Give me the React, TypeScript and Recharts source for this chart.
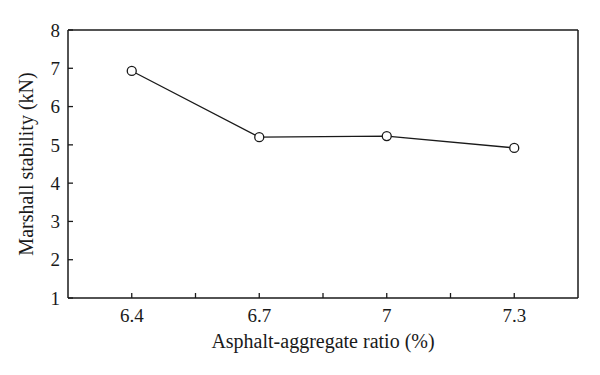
import React from "react";
import { LineChart, Line, XAxis, YAxis, ReferenceLine } from "recharts";

// asphalt-aggregate ratio categories and measured Marshall stability
const ratios = ["6.4", "6.7", "7", "7.3"];
const stability = [6.93, 5.2, 5.23, 4.92];
const yTicks = [1, 2, 3, 4, 5, 6, 7, 8];
// category centres plus the boundaries between them (minor ticks)
const xTicks = [1, 1.5, 2, 2.5, 3, 3.5, 4];

const data = ratios.map((r, i) => ({ pos: i + 1, label: r, value: stability[i] }));

const FONT = "'Liberation Serif', 'Times New Roman', serif";
const INK = "#1a1a1a";
const tickStyle = { fontSize: 19, fill: INK, fontFamily: FONT };

export default function App() {
  return (
    <div style={{ position: "absolute", left: 0, top: 0, background: "#fff" }}>
      <LineChart width={600} height={375} data={data}
        margin={{ top: 30, right: 22, bottom: 0, left: 0 }}>
        <XAxis
          type="number" dataKey="pos" domain={[0.5, 4.5]} ticks={xTicks}
          tickFormatter={(v: number) => (Number.isInteger(v) ? ratios[v - 1] : "")}
          height={77} tickSize={-5} tickMargin={16}
          axisLine={{ stroke: INK, strokeWidth: 1.5 }}
          tickLine={{ stroke: INK, strokeWidth: 1.3 }}
          tick={tickStyle} interval={0}
          label={{
            value: "Asphalt-aggregate ratio (%)", position: "insideBottom", offset: 27,
            style: { fontSize: 20, fill: INK, fontFamily: FONT },
          }}
        />
        <YAxis
          type="number" domain={[1, 8]} ticks={yTicks} width={68}
          tickSize={-5} tickMargin={13}
          axisLine={{ stroke: INK, strokeWidth: 1.5 }}
          tickLine={{ stroke: INK, strokeWidth: 1.3 }}
          tick={tickStyle} interval={0}
          label={{
            value: "Marshall stability (kN)", angle: -90, position: "insideLeft", offset: 26,
            style: { fontSize: 20, fill: INK, fontFamily: FONT, textAnchor: "middle" },
          }}
        />
        <ReferenceLine y={8} stroke={INK} strokeWidth={1.5} />
        <ReferenceLine x={4.5} stroke={INK} strokeWidth={1.5} />
        <Line
          dataKey="value" stroke={INK} strokeWidth={1.3}
          dot={{ r: 4.5, stroke: INK, strokeWidth: 1.3, fill: "#fff" }}
          activeDot={false} isAnimationActive={false}
        />
      </LineChart>
    </div>
  );
}
